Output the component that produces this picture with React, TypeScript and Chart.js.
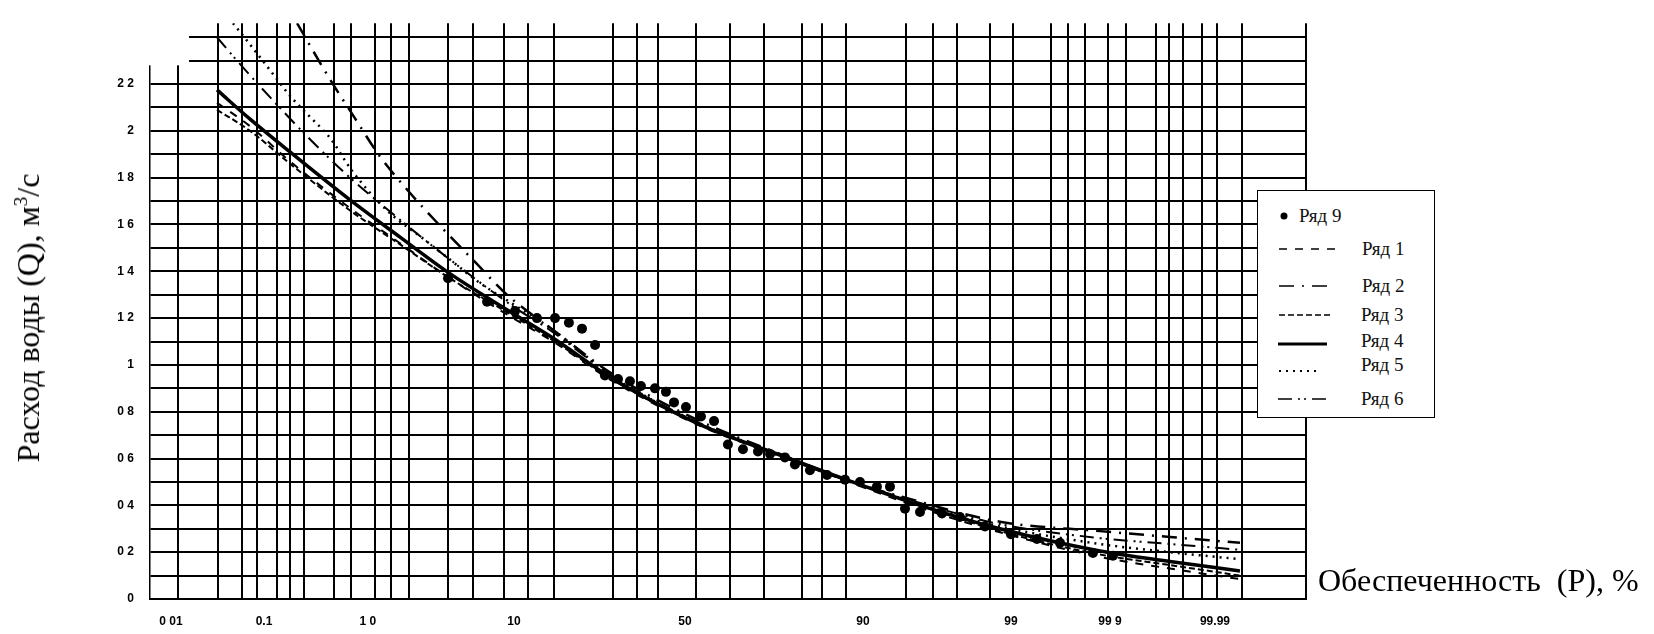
import React, { useEffect, useRef } from 'react';
import { Chart, registerables } from 'chart.js';

Chart.register(...registerables);

// x axis of the probability paper, in standard normal deviate units
const X_MIN = -3.849;
const X_MAX = 4.468;
const gridZ = [
  -3.647, -3.36, -3.187, -3.079, -2.935, -2.842, -2.741, -2.525, -2.403, -2.23, -2.115, -1.986,
  -1.705, -1.525, -1.302, -1.129, -0.942, -0.518, -0.345, -0.194, 0.079, 0.324, 0.568, 0.842,
  0.986, 1.158, 1.59, 1.784, 1.957, 2.194, 2.36, 2.633, 2.755, 2.878, 3.043, 3.173, 3.388,
  3.482, 3.583, 3.719, 3.827, 4.007, 4.468,
];
const labelZ = [-3.698, -3.029, -2.281, -1.23, 0, 1.281, 2.345, 3.058, 3.813];
const labelText = ['0 01', '0.1', '1 0', '10', '50', '90', '99', '99 9', '99.99'];

const yGrid = [0, 0.1, 0.2, 0.3, 0.4, 0.5, 0.6, 0.7, 0.8, 0.9, 1, 1.1, 1.2, 1.3, 1.4, 1.5, 1.6, 1.7, 1.8, 1.9, 2, 2.1, 2.2, 2.3, 2.4];
const yLabelValues = [0, 0.2, 0.4, 0.6, 0.8, 1, 1.2, 1.4, 1.6, 1.8, 2, 2.2];
const yLabelText = ['0', '0 2', '0 4', '0 6', '0 8', '1', '1 2', '1 4', '1 6', '1 8', '2', '2 2'];

// fitted curves
const zMain = [-3.367, -3.129, -2.842, -2.41, -2.05, -1.691, -1.237, -0.95, -0.518, 0.108, 0.683, 1.158, 1.691, 2.266, 2.986, 3.489, 3.993];
const ser1 = [2.12, 2.02, 1.87, 1.67, 1.52, 1.37, 1.2, 1.1, 0.93, 0.74, 0.61, 0.505, 0.39, 0.285, 0.18, 0.13, 0.085];
const ser3 = [2.09, 2.0, 1.86, 1.66, 1.515, 1.37, 1.21, 1.105, 0.935, 0.745, 0.615, 0.51, 0.4, 0.29, 0.19, 0.145, 0.1];
const ser4 = [2.175, 2.05, 1.91, 1.705, 1.546, 1.39, 1.22, 1.115, 0.94, 0.745, 0.615, 0.51, 0.4, 0.3, 0.205, 0.16, 0.12];
const z5 = [-3.252, -3.144, -2.986, -2.842, -2.698, -2.554, -2.396, -2.144, -1.885, -1.691, -1.475, -1.237, -0.95, -0.518, 0.108, 0.683, 1.158, 1.691, 2.266, 2.986, 3.489, 3.993];
const ser5 = [2.46, 2.38, 2.26, 2.15, 2.06, 1.97, 1.83, 1.66, 1.54, 1.45, 1.35, 1.26, 1.15, 0.95, 0.75, 0.615, 0.51, 0.405, 0.31, 0.235, 0.2, 0.17];
const z6 = [-3.367, -3.223, -2.964, -2.691, -2.41, -2.05, -1.691, -1.237, -0.95, -0.518, 0.108, 0.683, 1.158, 1.691, 2.266, 2.986, 3.489, 3.993];
const ser6 = [2.4, 2.3, 2.13, 1.96, 1.8, 1.62, 1.45, 1.25, 1.14, 0.95, 0.75, 0.615, 0.51, 0.41, 0.32, 0.26, 0.235, 0.21];
const z2 = [-2.791, -2.554, -2.381, -2.194, -1.986, -1.755, -1.511, -1.281, -0.95, -0.518, 0.108, 0.683, 1.158, 1.691, 2.266, 2.986, 3.489, 3.993];
const ser2 = [2.46, 2.22, 2.06, 1.89, 1.74, 1.59, 1.44, 1.3, 1.15, 0.96, 0.76, 0.62, 0.51, 0.415, 0.33, 0.29, 0.265, 0.24];

// observed points (Ряд 9)
const z9 = [-1.705, -1.424, -1.223, -1.065, -0.935, -0.835, -0.741, -0.647, -0.576, -0.482, -0.396, -0.317, -0.216, -0.137, -0.079, 0.007, 0.115, 0.209, 0.309, 0.417, 0.525, 0.612, 0.719, 0.791, 0.899, 1.022, 1.151, 1.259, 1.381, 1.475, 1.583, 1.691, 1.849, 1.978, 2.158, 2.345, 2.532, 2.698, 2.935, 3.079];
const q9 = [1.37, 1.27, 1.23, 1.2, 1.2, 1.18, 1.155, 1.085, 0.955, 0.94, 0.93, 0.91, 0.9, 0.885, 0.84, 0.82, 0.78, 0.76, 0.66, 0.64, 0.63, 0.62, 0.605, 0.575, 0.55, 0.53, 0.51, 0.5, 0.48, 0.48, 0.386, 0.372, 0.365, 0.35, 0.31, 0.277, 0.256, 0.24, 0.197, 0.185];

const dash1 = [8, 8];
const dash2 = [15, 8, 2, 8];
const dash3 = [6, 3];
const dash5 = [2, 5];
const dash6 = [14, 6, 2, 4, 2, 6];

const pts = (xs: number[], ys: number[]) => xs.map((x, i) => ({ x, y: ys[i] }));
const near = (arr: number[], v: number) => arr.findIndex((a) => Math.abs(a - v) < 1e-6);

const cornerMask = {
  id: 'cornerMask',
  beforeDatasetsDraw(chart: any) {
    const { ctx, chartArea, scales } = chart;
    const xr = scales.x.getPixelForValue(-3.561);
    const yb = scales.y.getPixelForValue(2.28);
    ctx.save();
    ctx.fillStyle = '#fff';
    ctx.fillRect(chartArea.left - 3, 0, xr - chartArea.left + 2, yb);
    ctx.restore();
  },
};

const lineDs = (label: string, data: any, dash: number[], width: number) => ({
  label,
  type: 'line' as const,
  data,
  borderColor: '#000',
  backgroundColor: '#000',
  borderWidth: width,
  borderDash: dash,
  pointRadius: 0,
  fill: false,
  cubicInterpolationMode: 'monotone' as const,
});

const serif = '"Liberation Serif", "Times New Roman", serif';

function LegendRow({ y, textY, textX, children, sample }: any) {
  return (
    <>
      <svg style={{ position: 'absolute', left: 0, top: y - 5 }} width={100} height={10}>
        {sample}
      </svg>
      <span
        style={{
          position: 'absolute',
          left: textX,
          top: textY - 11,
          fontFamily: serif,
          fontSize: 19,
          lineHeight: '22px',
          color: '#111',
          whiteSpace: 'nowrap',
        }}
      >
        {children}
      </span>
    </>
  );
}

export default function App() {
  const ref = useRef<HTMLCanvasElement>(null);

  useEffect(() => {
    document.body.style.margin = '0';
    const allX = [...gridZ, ...labelZ];
    const chart = new Chart(ref.current as HTMLCanvasElement, {
      type: 'line',
      data: {
        datasets: [
          {
            label: 'Ряд 9',
            type: 'scatter',
            data: pts(z9, q9),
            showLine: false,
            pointRadius: 5,
            pointBackgroundColor: '#000',
            pointBorderColor: '#000',
            pointBorderWidth: 0,
          } as any,
          lineDs('Ряд 1', pts(zMain, ser1), dash1, 2),
          lineDs('Ряд 2', pts(z2, ser2), dash2, 2.5),
          lineDs('Ряд 3', pts(zMain, ser3), dash3, 2),
          lineDs('Ряд 4', pts(zMain, ser4), [], 3.5),
          lineDs('Ряд 5', pts(z5, ser5), dash5, 2.5),
          lineDs('Ряд 6', pts(z6, ser6), dash6, 2),
        ],
      },
      options: {
        responsive: false,
        animation: false,
        devicePixelRatio: 1,
        layout: { padding: { top: 12, right: 348, left: 0, bottom: 0 } },
        plugins: { legend: { display: false }, tooltip: { enabled: false }, title: { display: false } },
        scales: {
          x: {
            type: 'linear',
            min: X_MIN,
            max: X_MAX,
            afterFit: (s: any) => {
              s.height = 35;
            },
            afterBuildTicks: (s: any) => {
              s.ticks = allX.map((v) => ({ value: v }));
            },
            grid: {
              color: (c: any) => (c.tick && near(gridZ, c.tick.value) >= 0 ? '#000' : 'rgba(0,0,0,0)'),
              lineWidth: 2,
              drawTicks: false,
            },
            border: { display: true, color: '#000', width: 2 },
            ticks: {
              autoSkip: false,
              maxRotation: 0,
              minRotation: 0,
              padding: 15,
              color: '#000',
              font: { family: '"Liberation Sans", Arial, sans-serif', size: 12, weight: 'bold' },
              callback: (v: any) => {
                const i = near(labelZ, Number(v));
                return i >= 0 ? labelText[i] : '';
              },
            },
          },
          y: {
            type: 'linear',
            min: 0,
            max: 2.46,
            afterFit: (s: any) => {
              s.width = 150;
            },
            afterBuildTicks: (s: any) => {
              s.ticks = yGrid.map((v) => ({ value: v }));
            },
            grid: { color: '#000', lineWidth: 2, drawTicks: false },
            border: { display: true, color: '#000', width: 1.5 },
            ticks: {
              autoSkip: false,
              padding: 16,
              color: '#000',
              font: { family: '"Liberation Sans", Arial, sans-serif', size: 12, weight: 'bold' },
              callback: (v: any) => {
                const i = near(yLabelValues, Number(v));
                return i >= 0 ? yLabelText[i] : '';
              },
            },
          },
        },
      } as any,
      plugins: [cornerMask],
    });
    return () => chart.destroy();
  }, []);

  return (
    <div style={{ position: 'relative', width: 1654, height: 634, background: '#fff', overflow: 'hidden' }}>
      <canvas ref={ref} width={1654} height={634} style={{ position: 'absolute', left: 0, top: 0 }} />
      <div
        style={{
          position: 'absolute',
          left: 28,
          top: 318,
          transform: 'translate(-50%, -50%) rotate(-90deg)',
          fontFamily: serif,
          fontSize: 32,
          lineHeight: '36px',
          whiteSpace: 'nowrap',
          color: '#000',
        }}
      >
        Расход воды (Q), м<sup style={{ fontSize: 19, lineHeight: 0 }}>3</sup>/с
      </div>
      <div
        style={{
          position: 'absolute',
          left: 1318,
          top: 562,
          fontFamily: serif,
          fontSize: 32,
          lineHeight: '36px',
          whiteSpace: 'pre',
          color: '#000',
        }}
      >
        {'Обеспеченность  (P), %'}
      </div>
      <div
        style={{
          position: 'absolute',
          left: 1257,
          top: 190,
          width: 176,
          height: 226,
          border: '1.5px solid #000',
          background: '#fff',
        }}
      >
        <LegendRow y={25} textY={25} textX={41} sample={<circle cx={26} cy={5} r={3.5} fill="#000" />}>
          Ряд 9
        </LegendRow>
        <LegendRow y={58} textY={58} textX={104} sample={<line x1={21} y1={5} x2={85} y2={5} stroke="#000" strokeWidth={1.5} strokeDasharray={dash1.join(' ')} />}>
          Ряд 1
        </LegendRow>
        <LegendRow y={95} textY={95} textX={104} sample={<line x1={21} y1={5} x2={73} y2={5} stroke="#000" strokeWidth={1.5} strokeDasharray={dash2.join(' ')} />}>
          Ряд 2
        </LegendRow>
        <LegendRow y={124} textY={124} textX={103} sample={<line x1={21} y1={5} x2={73} y2={5} stroke="#000" strokeWidth={1.5} strokeDasharray={dash3.join(' ')} />}>
          Ряд 3
        </LegendRow>
        <LegendRow y={153} textY={150} textX={103} sample={<line x1={20} y1={5} x2={69} y2={5} stroke="#000" strokeWidth={3} />}>
          Ряд 4
        </LegendRow>
        <LegendRow y={180} textY={174} textX={103} sample={<line x1={21} y1={5} x2={61} y2={5} stroke="#000" strokeWidth={2} strokeDasharray={dash5.join(' ')} />}>
          Ряд 5
        </LegendRow>
        <LegendRow y={208} textY={208} textX={103} sample={<line x1={20} y1={5} x2={73} y2={5} stroke="#000" strokeWidth={1.5} strokeDasharray={dash6.join(' ')} />}>
          Ряд 6
        </LegendRow>
      </div>
    </div>
  );
}
